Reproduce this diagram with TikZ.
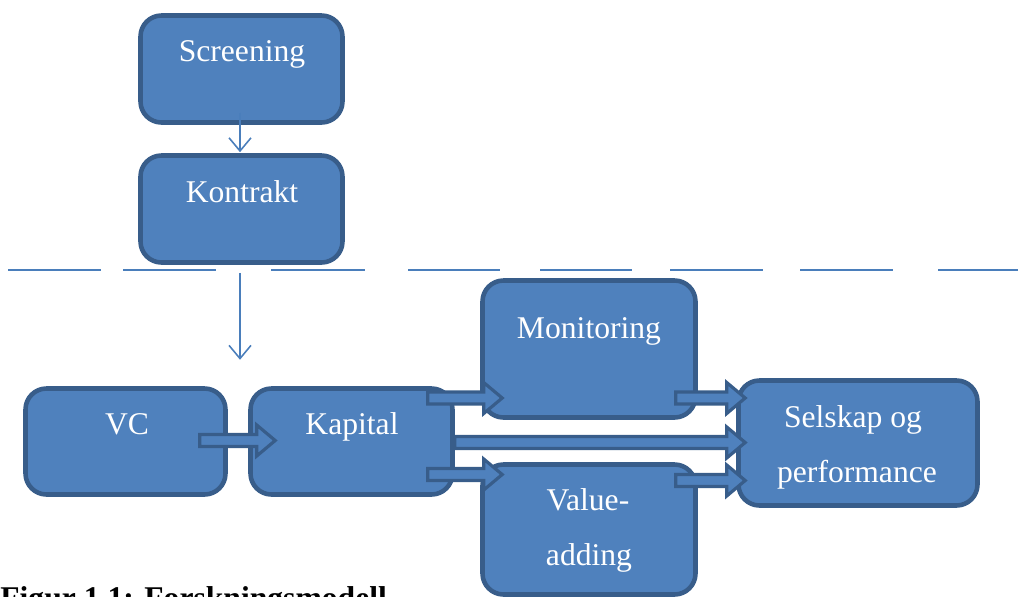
\documentclass[tikz,border=0pt]{standalone}
\usepackage{fontspec}
\setmainfont{Liberation Serif}
\usetikzlibrary{calc,arrows.meta}
\definecolor{boxfill}{HTML}{4F81BD}
\definecolor{boxline}{HTML}{385D8A}
\definecolor{linkblue}{HTML}{4A7EBB}

% horizontal block arrow from #1 to #2 (same height)
\newcommand\blockarrow[2]{%
  \draw[blockarrow] let \p1=(#1), \p2=(#2) in
    (\x1,\y1+3.4pt) -- (\x2-10.5pt,\y1+3.4pt) -- (\x2-10.5pt,\y1+8.8pt) --
    (\x2,\y1) -- (\x2-10.5pt,\y1-8.8pt) -- (\x2-10.5pt,\y1-3.4pt) --
    (\x1,\y1-3.4pt) -- cycle;}

\begin{document}
\begin{tikzpicture}[x=0.02cm,y=-0.02cm,
  box/.style={draw=boxline,fill=boxfill,line width=2.6pt,rounded corners=0.42cm,inner sep=0pt},
  lbl/.style={text=white,font=\fontsize{18}{22}\selectfont,anchor=base,inner sep=0pt},
  blockarrow/.style={draw=boxline,fill=boxfill,line width=1.8pt,line join=miter},
  thinarrow/.style={draw=linkblue,line width=0.9pt,-{Straight Barb[length=7.5pt,width=12.5pt,line width=0.9pt]}},
  divider/.style={draw=linkblue,line width=1.1pt}]
\useasboundingbox (0,0) rectangle (1018,596);
\clip (0,0) rectangle (1018,596);

% boxes
\node[box,minimum width=202*0.02cm,minimum height=107*0.02cm] (scr) at (241.5,69) {};
\node[box,minimum width=202*0.02cm,minimum height=107*0.02cm] (kon) at (241.5,209) {};
\node[box,minimum width=200*0.02cm,minimum height=106*0.02cm] (vc) at (125.5,441.5) {};
\node[box,minimum width=202*0.02cm,minimum height=106*0.02cm] (kap) at (351.5,441.5) {};
\node[box,minimum width=213*0.02cm,minimum height=137*0.02cm] (mon) at (589,349) {};
\node[box,minimum width=213*0.02cm,minimum height=130*0.02cm] (val) at (589,529.5) {};
\node[box,minimum width=239*0.02cm,minimum height=125*0.02cm] (sel) at (858,443) {};

% box texts
\node[lbl] (tscr) at (242,61) {Screening};
\node[lbl] (tkon) at (242,202) {Kontrakt};
\node[lbl] (tvc) at (127,434) {VC};
\node[lbl] (tkap) at (352,434) {Kapital};
\node[lbl] (tmon) at (589,338) {Monitoring};
\node[lbl] (tval1) at (588,510) {Value-};
\node[lbl] (tval2) at (589,565) {adding};
\node[lbl] (tsel1) at (853,427) {Selskap og};
\node[lbl] (tsel2) at (857,482) {performance};

% dashed divider
\foreach \a/\b in {8/101,123/216,271/365,408/500,540/632,670/763,800/893,938/1018}
  \draw[divider] (\a,270) -- (\b,270);

% thin connectors
\draw[thinarrow] ($(scr.south)+(-1.5,-12)$) -- ($(kon.north)+(-1.5,-1)$);
\coordinate (down) at ($(kon.south)+(-1.5,95)$);
\draw[thinarrow] ($(kon.south)+(-1.5,8)$) -- (down);

% block arrows
\coordinate (a1s) at ($(vc.east)+(-28,-1)$);
\coordinate (a1e) at ($(kap.west)+(27,-1)$);
\blockarrow{a1s}{a1e}
\coordinate (a2s) at ($(kap.east)+(-27,-43.5)$);
\coordinate (a2e) at ($(mon.west)+(22,49)$);
\blockarrow{a2s}{a2e}
\coordinate (a3s) at ($(kap.east)+(0,1)$);
\coordinate (a3e) at ($(sel.west)+(9,-0.5)$);
\blockarrow{a3s}{a3e}
\coordinate (a4s) at ($(kap.east)+(-27,33)$);
\coordinate (a4e) at ($(val.west)+(22,-54)$);
\blockarrow{a4s}{a4e}
\coordinate (a5s) at ($(mon.east)+(-22,49)$);
\coordinate (a5e) at ($(sel.west)+(9,-45)$);
\blockarrow{a5s}{a5e}
\coordinate (a6s) at ($(val.east)+(-22,-49)$);
\coordinate (a6e) at ($(sel.west)+(9,36.5)$);
\blockarrow{a6s}{a6e}

% caption (runs past the lower edge)
\node[anchor=base west,inner sep=0pt,font=\fontsize{18}{22}\selectfont\bfseries] (cap) at (0,608) {Figur 1.1: Forskningsmodell};
\end{tikzpicture}
\end{document}
